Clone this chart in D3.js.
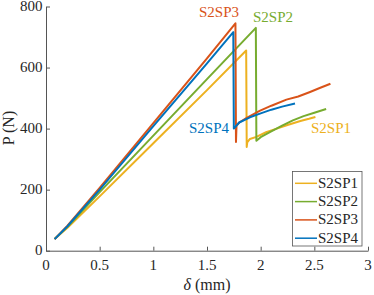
<!DOCTYPE html>
<html>
<head>
<meta charset="utf-8">
<script src="https://cdn.jsdelivr.net/npm/d3@7"></script>
<style>
  body { margin: 0; background: #fff; }
  #wrap { position: relative; width: 374px; height: 295px; font-family: 'Liberation Serif', 'Times New Roman', serif; }
  #wrap svg { position: absolute; left: 0; top: 0; }
  .lbl { position: absolute; white-space: nowrap; line-height: 1; }
</style>
</head>
<body>
<div id="wrap"><svg id="chart" width="374" height="295"></svg></div>
<script>
// specimen names and colours (MATLAB default order)
var names = ["S2SP1", "S2SP2", "S2SP3", "S2SP4"];
var colors = ["#EDB120", "#77AC30", "#D95319", "#0072BD"];

// displacement (mm) and load (N)
var d1 = [0.08, 0.2, 0.5, 1.0, 1.5, 1.865, 1.87, 1.875, 1.9, 1.96, 2.05, 2.15, 2.25, 2.37, 2.45, 2.51];
var p1 = [38, 75, 178, 352, 526, 656, 340, 355, 366, 373, 388, 400, 412, 425, 432, 438];

var d2 = [0.08, 0.2, 0.5, 1.0, 1.5, 1.955, 1.96, 2.0, 2.09, 2.2, 2.3, 2.4, 2.5, 2.61];
var p2 = [38, 78, 192, 377, 562, 730, 360, 372, 389, 410, 427, 441, 452, 464];

var d3_ = [0.08, 0.2, 0.5, 1.0, 1.5, 1.765, 1.77, 1.775, 1.8, 1.87, 1.99, 2.1, 2.24, 2.35, 2.46, 2.55, 2.65];
var p3 = [38, 82, 206, 418, 630, 745, 356, 410, 420, 435, 458, 475, 495, 505, 520, 533, 547];

var d4 = [0.08, 0.2, 0.5, 1.0, 1.5, 1.745, 1.75, 1.8, 1.9, 2.0, 2.1, 2.2, 2.32];
var p4 = [38, 80, 200, 408, 614, 716, 400, 420, 437, 450, 462, 472, 482];

var xTicks = [0, 0.5, 1, 1.5, 2, 2.5, 3];
var yTicks = [0, 200, 400, 600, 800];

var series = [
  {name: names[0], d: d1, p: p1},
  {name: names[1], d: d2, p: p2},
  {name: names[2], d: d3_, p: p3},
  {name: names[3], d: d4, p: p4}
];

var svg = d3.select("#chart");
var wrap = d3.select("#wrap");

var x = d3.scaleLinear().domain([0, 3]).range([46, 368]);
var y = d3.scaleLinear().domain([0, 800]).range([250.7, 6.5]);

// text is put on as html (serif font), baseline at by
function label(px, by, txt, anchor, size, color){
  var shift = anchor == "middle" ? "-50%" : (anchor == "end" ? "-100%" : "0");
  return wrap.append("div")
    .attr("class", "lbl")
    .style("left", px + "px")
    .style("top", (by - 0.838 * size) + "px")
    .style("font-size", size + "px")
    .style("color", color)
    .style("transform", "translateX(" + shift + ")")
    .text(txt);
}

var line = d3.line()
  .x(function(v){ return x(v[0]); })
  .y(function(v){ return y(v[1]); });

series.forEach(function(s, i){
  var pts = s.d.map(function(v, j){ return [v, s.p[j]]; });
  svg.append("path")
    .attr("d", line(pts))
    .attr("fill", "none")
    .attr("stroke", colors[i])
    .attr("stroke-width", 2)
    .attr("stroke-linejoin", "round");
});

// axes (ticks inward, labels drawn as html below)
var xa = svg.append("g")
  .attr("transform", "translate(0," + y(0) + ")")
  .call(d3.axisBottom(x).tickValues(xTicks).tickSizeInner(-4).tickSizeOuter(0));
var ya = svg.append("g")
  .attr("transform", "translate(" + x(0) + ",0)")
  .call(d3.axisLeft(y).tickValues(yTicks).tickSizeInner(-4).tickSizeOuter(0));

[xa, ya].forEach(function(g){
  g.select(".domain").attr("stroke", "#555");
  g.selectAll(".tick line").attr("stroke", "#555");
  g.selectAll(".tick text").remove();
});

xTicks.forEach(function(v){
  label(x(v), 271, String(v), "middle", 15, "#262626");
});
yTicks.forEach(function(v){
  label(42.5, y(v) + 5.2, String(v), "end", 15, "#262626");
});

// axis labels
var xl = label(207, 290, "", "middle", 16, "#262626");
xl.append("span").style("font-style", "italic").text("δ");
xl.append("span").text(" (mm)");

wrap.append("div")
  .attr("class", "lbl")
  .style("left", "9px")
  .style("top", "128px")
  .style("font-size", "16px")
  .style("color", "#262626")
  .style("transform", "translate(-50%,-50%) rotate(-90deg)")
  .text("P (N)");

// annotations near the curves
var notes = [
  {i: 2, x: 219, y: 17.5},
  {i: 1, x: 273, y: 22.5},
  {i: 3, x: 209, y: 134},
  {i: 0, x: 331, y: 133.5}
];
notes.forEach(function(n){
  label(n.x, n.y, names[n.i], "middle", 15, colors[n.i]);
});

// legend
var lg = svg.append("g");
lg.append("rect")
  .attr("x", 292.5).attr("y", 171.5)
  .attr("width", 69.5).attr("height", 74.5)
  .attr("fill", "#fff")
  .attr("stroke", "#555")
  .attr("stroke-width", 0.8);
names.forEach(function(nm, i){
  var yy = 183.3 + i * 18.3;
  lg.append("line")
    .attr("x1", 295).attr("x2", 317)
    .attr("y1", yy).attr("y2", yy)
    .attr("stroke", colors[i])
    .attr("stroke-width", 1.5);
  label(318, yy + 5, nm, "start", 15, "#262626");
});
</script>
</body>
</html>
